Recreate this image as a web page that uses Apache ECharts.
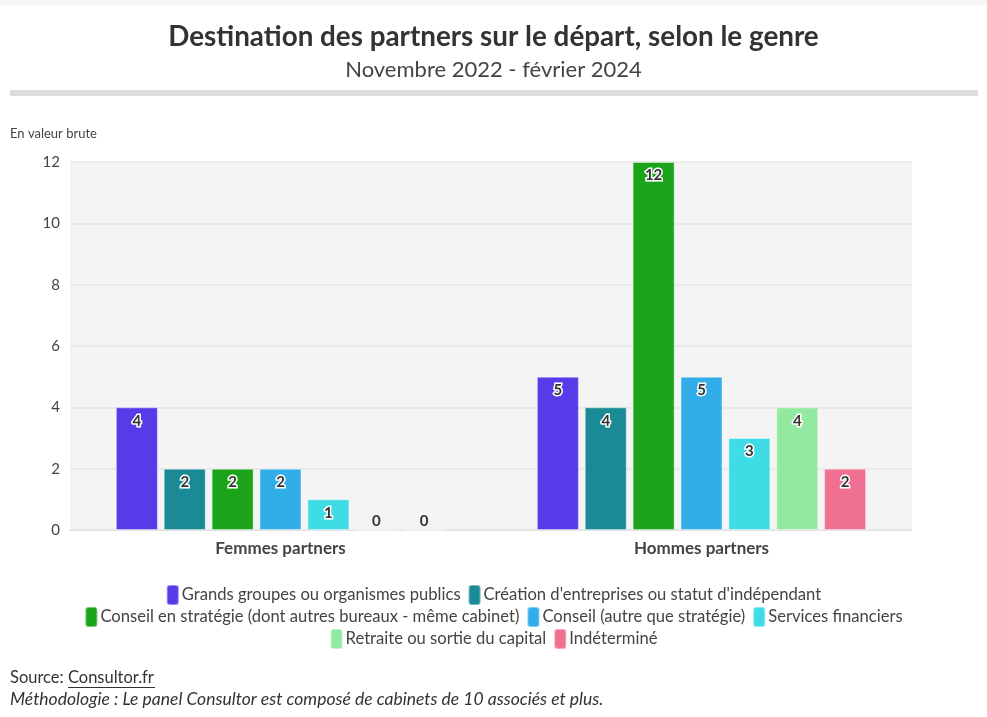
<!DOCTYPE html>
<html><head><meta charset="utf-8">
<script src="https://cdn.jsdelivr.net/npm/echarts@6/dist/echarts.min.js"></script>
<style>html,body{margin:0;padding:0;background:#fff}#c{width:987px;height:717px}</style>
</head><body><div id="c"></div>
<script>
const categories = ['Femmes partners', 'Hommes partners'];
const seriesNames = [
  'Grands groupes ou organismes publics',
  "Création d'entreprises ou statut d'indépendant",
  'Conseil en stratégie (dont autres bureaux - même cabinet)',
  'Conseil (autre que stratégie)',
  'Services financiers',
  'Retraite ou sortie du capital',
  'Indéterminé'
];
const grandsGroupes = [4, 5];
const creation = [2, 4];
const conseilStrategie = [2, 12];
const conseilAutre = [2, 5];
const servicesFinanciers = [1, 3];
const retraite = [0, 4];
const indetermine = [0, 2];
const yTicks = [0, 2, 4, 6, 8, 10, 12];
const colors = ['#553ce8', '#198a96', '#1ba41a', '#31aeea', '#40dce6', '#94e9a0', '#f07093'];

const allValues = [grandsGroupes, creation, conseilStrategie, conseilAutre, servicesFinanciers, retraite, indetermine];
const FONT = 'Lato';

const series = allValues.map((vals, i) => ({
  name: seriesNames[i],
  type: 'bar',
  barWidth: 42,
  barGap: '14%',
  itemStyle: { color: colors[i], borderColor: 'rgba(255,255,255,0.4)', borderWidth: 1 },
  label: {
    show: true, position: 'insideTop', distance: 6,
    fontFamily: FONT, fontWeight: 'bold', fontSize: 15, color: '#333',
    textBorderColor: '#fff', textBorderWidth: 3
  },
  data: vals.map(v => v === 0
    ? { value: v, label: { position: 'top', distance: 1, textBorderWidth: 0 } }
    : v)
}));

const legendRows = [[0, 1], [2, 3, 4], [5, 6]];
const legendTops = [579, 601, 623];
const legends = legendRows.map((row, r) => ({
  data: row.map(i => seriesNames[i]),
  top: legendTops[r], left: 'center',
  icon: 'roundRect', itemWidth: 12, itemHeight: 20, itemGap: 7,
  selectedMode: false,
  textStyle: { fontFamily: FONT, fontSize: 16.6, color: '#444', padding: [0, 0, 0, -2] }
}));

const chart = echarts.init(document.getElementById('c'));
chart.setOption({
  animation: false,
  color: colors,
  title: {
    text: 'Destination des partners sur le départ, selon le genre',
    subtext: 'Novembre 2022 - février 2024',
    left: 'center', top: 18, itemGap: 8,
    textStyle: { fontFamily: FONT, fontWeight: 'bold', fontSize: 27.8, color: '#333' },
    subtextStyle: { fontFamily: FONT, fontSize: 22, color: '#444' }
  },
  legend: legends,
  grid: { left: 70, right: 75, top: 162, bottom: 187, show: true, backgroundColor: '#f4f4f4', borderWidth: 0 },
  xAxis: {
    type: 'category', data: categories,
    axisLine: { lineStyle: { color: '#e2e2e2' } },
    axisTick: { alignWithLabel: true, length: 6, lineStyle: { color: '#e2e2e2' } },
    axisLabel: { fontFamily: FONT, fontWeight: 'bold', fontSize: 17, color: '#444', margin: 10 }
  },
  yAxis: {
    type: 'value', min: yTicks[0], max: yTicks[yTicks.length - 1], interval: 2,
    axisLine: { show: false }, axisTick: { show: false },
    splitLine: { lineStyle: { color: '#e6e6e6', width: 1.5 } },
    axisLabel: { fontFamily: FONT, fontSize: 15, color: '#444', margin: 10 }
  },
  series: series,
  graphic: [
    { type: 'rect', shape: { x: 0, y: 0, width: 987, height: 5 }, style: { fill: '#f7f7f7' }, silent: true },
    { type: 'rect', shape: { x: 10, y: 90, width: 968, height: 6 }, style: { fill: '#dcdcdc' }, silent: true },
    { type: 'text', left: 10, top: 127, style: { text: 'En valeur brute', fontFamily: FONT, fontSize: 13, fill: '#444' } },
    { type: 'text', left: 10, top: 669, style: { text: 'Source: Consultor.fr', fontFamily: FONT, fontSize: 16.5, fill: '#333' } },
    { type: 'rect', shape: { x: 68, y: 687, width: 87, height: 1 }, style: { fill: '#333' } },
    { type: 'text', left: 10, top: 690, style: { text: 'Méthodologie : Le panel Consultor est composé de cabinets de 10 associés et plus.', fontFamily: FONT, fontStyle: 'italic', fontSize: 17.5, fill: '#333' } }
  ]
});
</script></body></html>
